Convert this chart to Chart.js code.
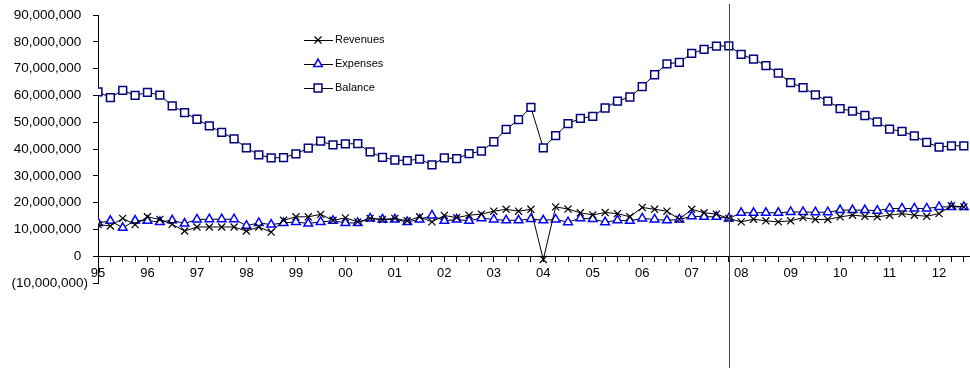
<!DOCTYPE html>
<html>
<head>
<meta charset="utf-8">
<script src="https://cdn.jsdelivr.net/npm/chart.js@4.4.1/dist/chart.umd.min.js"></script>
<style>
  html, body { margin: 0; padding: 0; background: #fff; }
  #wrap { width: 970px; height: 368px; position: relative; }
</style>
</head>
<body>
<div id="wrap"><canvas id="myChart"></canvas></div>
<script>
// quarterly, 1995 Q1 .. 2012 Q3
const yearLabels = ['95','96','97','98','99','00','01','02','03','04','05','06','07','08','09','10','11','12'];

const revenues = [11800000,11300000,14100000,11800000,14700000,13700000,11900000,9400000,10900000,10900000,
  10900000,10900000,9400000,10900000,9000000,13400000,14700000,14700000,15600000,13400000,
  14300000,12800000,14100000,13700000,14100000,13200000,14700000,12800000,15200000,14400000,
  15300000,15700000,16800000,17500000,16800000,17500000,-1200000,18400000,17600000,16200000,
  15400000,16300000,15900000,14700000,18200000,17500000,16800000,13800000,17500000,16200000,
  15700000,14100000,12800000,13800000,13200000,12800000,13200000,14400000,13700000,13700000,
  14700000,15300000,14900000,14700000,15300000,15900000,15300000,14900000,15900000,18800000,18400000];

const expenses = [12400000,13200000,10600000,13300000,13200000,12800000,13400000,12200000,13700000,13800000,
  13800000,13800000,11400000,12400000,11800000,12400000,12800000,12200000,12800000,13200000,
  12400000,12400000,14100000,13700000,13700000,12800000,13700000,15200000,13200000,13700000,
  13200000,14200000,13700000,13400000,13400000,13900000,13400000,13700000,12700000,14200000,
  13900000,12700000,13400000,13200000,14100000,13700000,13400000,13700000,14900000,14700000,
  14700000,14100000,16200000,16200000,16200000,16200000,16500000,16500000,16400000,16400000,
  17200000,17200000,17200000,17000000,17800000,17800000,17800000,17800000,18400000,18400000,18400000];

const balance = [61300000,59200000,61900000,60000000,61100000,60100000,56100000,53600000,51100000,48600000,
  46200000,43800000,40400000,37800000,36700000,36800000,38200000,40300000,42900000,41500000,
  41900000,42000000,38900000,36900000,35900000,35700000,36200000,34100000,36700000,36400000,
  38300000,39200000,42700000,47300000,51000000,55500000,40400000,45000000,49500000,51400000,
  52200000,55300000,57900000,59400000,63300000,67700000,71800000,72300000,75700000,77200000,
  78400000,78500000,75300000,73500000,71100000,68300000,64800000,62900000,60200000,57900000,
  55100000,54100000,52500000,50100000,47400000,46600000,44900000,42500000,40700000,41200000,41200000];

const markerQuarter = '07Q4';

const quarters = [];
yearLabels.forEach(y => { for (let q = 1; q <= 4; q++) quarters.push(y + 'Q' + q); });
quarters.length = balance.length;

const toPoints = arr => arr.map((v, i) => ({ x: i, y: v }));
const FONT = 'Arial, "Liberation Sans", sans-serif';

const insideLegend = {
  id: 'insideLegend',
  afterDraw(chart) {
    const ctx = chart.ctx;
    ctx.save();
    ctx.font = '11px ' + FONT;
    ctx.textBaseline = 'middle';
    ctx.textAlign = 'left';
    chart.data.datasets.forEach((ds, i) => {
      const y = 40 + i * 24;
      ctx.strokeStyle = '#000';
      ctx.lineWidth = 1;
      ctx.beginPath();
      ctx.moveTo(304, y + 0.5);
      ctx.lineTo(333, y + 0.5);
      ctx.stroke();
      ctx.strokeStyle = ds.pointBorderColor;
      ctx.fillStyle = ds.pointBackgroundColor;
      ctx.lineWidth = ds.pointBorderWidth;
      Chart.helpers.drawPoint(ctx, {
        pointStyle: ds.pointStyle, radius: ds.pointRadius, rotation: 0, borderWidth: ds.pointBorderWidth
      }, 318, y);
      ctx.fillStyle = '#000';
      ctx.fillText(ds.label, 335, y);
    });
    ctx.restore();
  }
};

const quarterLine = {
  id: 'quarterLine',
  afterDraw(chart) {
    const x = Math.round(chart.scales.x.getPixelForValue(quarters.indexOf(markerQuarter))) + 0.5;
    const ctx = chart.ctx;
    ctx.save();
    ctx.strokeStyle = '#444';
    ctx.lineWidth = 1;
    ctx.beginPath();
    ctx.moveTo(x, 4);
    ctx.lineTo(x, chart.height);
    ctx.stroke();
    ctx.restore();
  }
};

Chart.defaults.font.family = FONT;
Chart.defaults.color = '#000';

new Chart('myChart', {
  type: 'line',
  data: {
    datasets: [{
      label: 'Revenues',
      data: toPoints(revenues),
      borderColor: '#000',
      borderWidth: 1,
      pointStyle: 'crossRot',
      pointRadius: 5,
      pointBorderColor: '#000',
      pointBackgroundColor: '#000',
      pointBorderWidth: 1.2
    }, {
      label: 'Expenses',
      data: toPoints(expenses),
      borderColor: '#000',
      borderWidth: 1,
      pointStyle: 'triangle',
      pointRadius: 5,
      pointBorderColor: '#0000ff',
      pointBackgroundColor: '#fff',
      pointBorderWidth: 1.5
    }, {
      label: 'Balance',
      data: toPoints(balance),
      borderColor: '#000',
      borderWidth: 1,
      pointStyle: 'rect',
      pointRadius: 5.5,
      pointBorderColor: '#000080',
      pointBackgroundColor: '#fff',
      pointBorderWidth: 1.5
    }]
  },
  options: {
    responsive: true,
    maintainAspectRatio: false,
    animation: false,
    layout: { autoPadding: false, padding: { top: 15, right: 0, bottom: 85, left: 0 } },
    elements: { line: { tension: 0 } },
    plugins: {
      legend: { display: false },
      tooltip: { enabled: false }
    },
    scales: {
      x: {
        type: 'linear',
        position: { y: 0 },
        min: 0,
        max: 70.5,
        afterFit: s => { s.paddingLeft = 0; s.paddingRight = 0; },
        grid: { drawOnChartArea: false, drawTicks: true, tickLength: 5, color: '#000' },
        border: { color: '#000', width: 1 },
        ticks: {
          stepSize: 1,
          autoSkip: false,
          includeBounds: false,
          maxRotation: 0,
          padding: 4,
          font: { size: 13 },
          callback: v => (v % 4 === 0 ? yearLabels[v / 4] : '')
        }
      },
      y: {
        min: -10000000,
        max: 90000000,
        afterFit: s => { s.width = 98; },
        grid: { drawOnChartArea: false, drawTicks: true, tickLength: 5, color: '#000' },
        border: { color: '#000', width: 1 },
        ticks: {
          stepSize: 10000000,
          padding: 5,
          font: { size: 13.5 },
          callback: v => (v < 0 ? '(' + Math.abs(v).toLocaleString('en-US') + ')' : v.toLocaleString('en-US') + '\u2002')
        }
      }
    }
  },
  plugins: [insideLegend, quarterLine]
});
</script>
</body>
</html>
